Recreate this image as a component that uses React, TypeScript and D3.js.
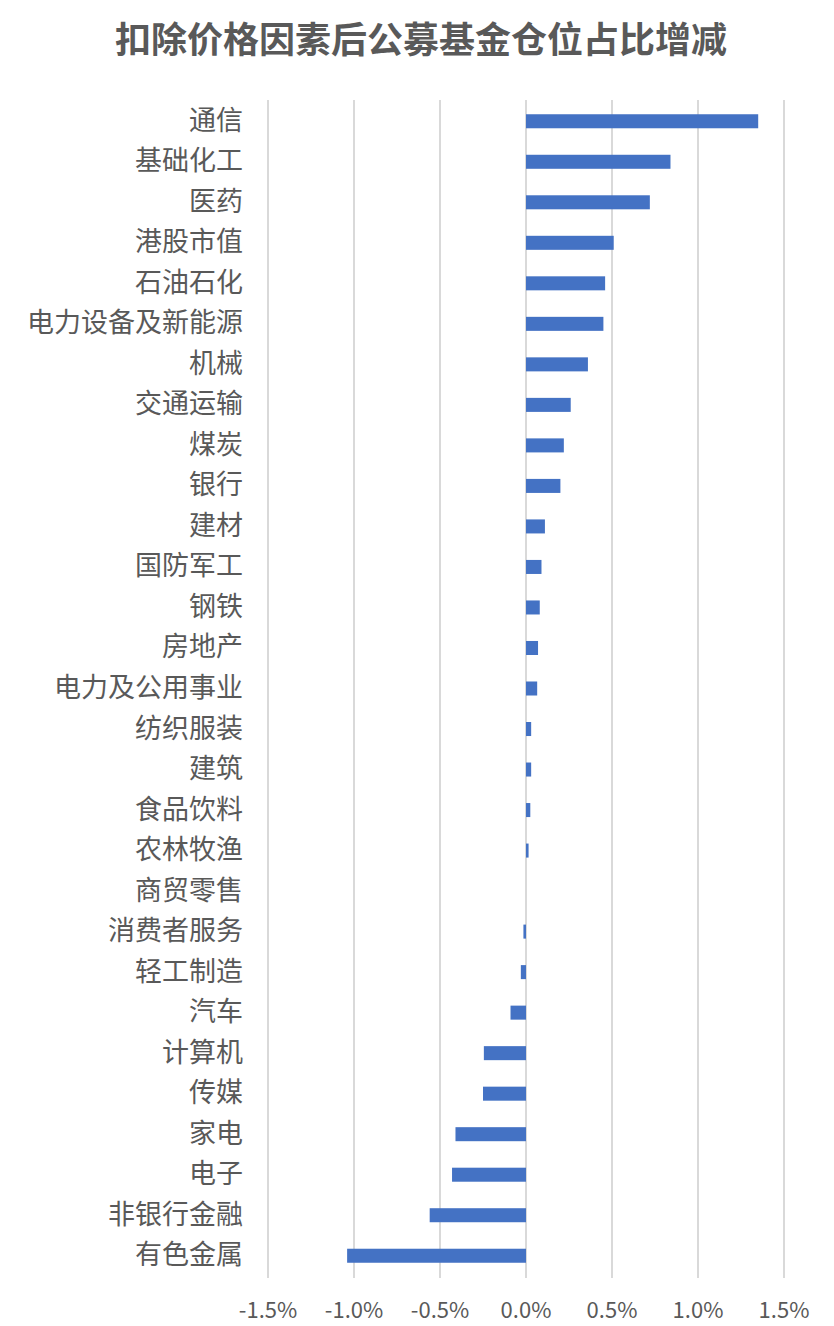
import * as React from 'react';
import * as d3 from 'd3';

const title = '扣除价格因素后公募基金仓位占比增减';

const industries = [
  '通信', '基础化工', '医药', '港股市值', '石油石化', '电力设备及新能源', '机械', '交通运输',
  '煤炭', '银行', '建材', '国防军工', '钢铁', '房地产', '电力及公用事业', '纺织服装',
  '建筑', '食品饮料', '农林牧渔', '商贸零售', '消费者服务', '轻工制造', '汽车', '计算机',
  '传媒', '家电', '电子', '非银行金融', '有色金属',
];

// change in position share, percent
const changes = [
  1.35, 0.84, 0.72, 0.51, 0.46, 0.45, 0.36, 0.26,
  0.22, 0.2, 0.11, 0.09, 0.08, 0.07, 0.065, 0.03,
  0.03, 0.025, 0.015, 0, -0.015, -0.03, -0.09, -0.245,
  -0.25, -0.41, -0.43, -0.56, -1.04,
];

const xTicks = [-1.5, -1.0, -0.5, 0, 0.5, 1.0, 1.5];

const width = 834;
const height = 1326;
const font = '"Noto Sans CJK SC", "Noto Sans", sans-serif';
const textColor = '#595959';

export default function App() {
  const svgRef = React.useRef<SVGSVGElement>(null);

  React.useEffect(() => {
    if (!svgRef.current) return;
    const svg = d3.select(svgRef.current);
    svg.selectAll('*').remove();

    const x = d3.scaleLinear().domain([-1.5, 1.5]).range([268, 784]);
    const y = d3
      .scaleBand<string>()
      .domain(industries)
      .range([101, 1276])
      .paddingInner(0.654)
      .paddingOuter(0.327);

    // title
    svg
      .append('text')
      .attr('x', 421)
      .attr('y', 37)
      .attr('text-anchor', 'middle')
      .attr('dominant-baseline', 'central')
      .style('font-family', font)
      .style('font-size', '36px')
      .style('font-weight', 700)
      .style('fill', textColor)
      .text(title);

    // vertical gridlines
    svg
      .append('g')
      .selectAll('line')
      .data(xTicks)
      .enter()
      .append('line')
      .attr('x1', (d) => x(d))
      .attr('x2', (d) => x(d))
      .attr('y1', 100)
      .attr('y2', 1278)
      .attr('stroke', '#d9d9d9')
      .attr('stroke-width', 2);

    // bars
    const data = industries.map((name, i) => ({ name, value: changes[i] }));
    svg
      .append('g')
      .selectAll('rect')
      .data(data)
      .enter()
      .append('rect')
      .attr('x', (d) => x(Math.min(0, d.value)))
      .attr('y', (d) => y(d.name)!)
      .attr('width', (d) => Math.abs(x(d.value) - x(0)))
      .attr('height', y.bandwidth())
      .attr('fill', '#4472C4');

    // category labels
    svg
      .append('g')
      .selectAll('text')
      .data(industries)
      .enter()
      .append('text')
      .attr('x', 243)
      .attr('y', (d) => y(d)! + y.bandwidth() / 2 - 3)
      .attr('text-anchor', 'end')
      .attr('dominant-baseline', 'central')
      .style('font-family', font)
      .style('font-size', '27px')
      .style('fill', textColor)
      .text((d) => d);

    // x tick labels (plain hyphen like Excel)
    const fmt = d3.format('.1f');
    svg
      .append('g')
      .selectAll('text')
      .data(xTicks)
      .enter()
      .append('text')
      .attr('x', (d) => x(d))
      .attr('y', 1308)
      .attr('text-anchor', 'middle')
      .attr('dominant-baseline', 'central')
      .style('font-family', font)
      .style('font-size', '22px')
      .style('fill', textColor)
      .text((d) => fmt(d).replace('\u2212', '-') + '%');
  }, []);

  return (
    <svg
      ref={svgRef}
      width={width}
      height={height}
      style={{ position: 'absolute', left: 0, top: 0, background: '#fff' }}
    />
  );
}
